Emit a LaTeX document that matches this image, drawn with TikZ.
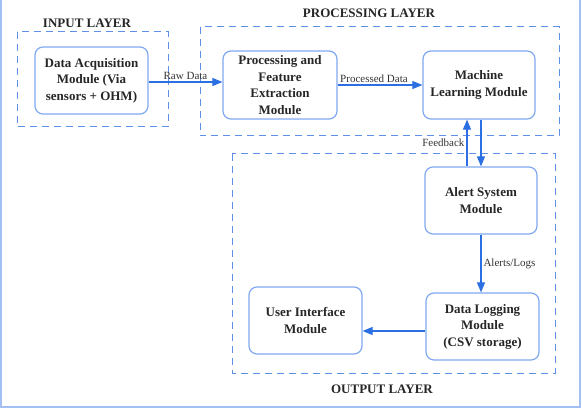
\documentclass[tikz,border=0pt]{standalone}
\usepackage{fontspec}
\setmainfont{Liberation Serif}
\usetikzlibrary{arrows.meta}
\definecolor{boxblue}{HTML}{7FA8F0}
\definecolor{dashblue}{HTML}{5E90E8}
\definecolor{arrowblue}{HTML}{2B6FE3}
\definecolor{frameblue}{HTML}{A4BFF3}
\tikzset{module/.style={draw=boxblue,line width=1.2pt,rounded corners=8pt,
    align=center,font=\fontsize{13}{16.5}\selectfont\bfseries,text=black!85,inner sep=0pt}}

\begin{document}
\begin{tikzpicture}[x=1pt,y=-1pt,
        layer/.style={draw=dashblue,line width=1pt,dash pattern=on 7pt off 5pt},
        title/.style={font=\fontsize{13}{16}\selectfont\bfseries,text=black!85},
        flow/.style={draw=arrowblue,line width=1.1pt,-{Triangle[length=10pt,width=8pt]}},
        tag/.style={font=\fontsize{11}{13}\selectfont,text=black!80,inner sep=2pt}]
    \useasboundingbox (0,0) rectangle (582,409);
    \draw[frameblue,line width=1.2pt] (1,0) -- (1,407) -- (580,407) -- (580,0);
        \draw[layer] (17,32) rectangle (168,127);
        \draw[layer] (200,27) rectangle (559,136);
        \draw[layer] (232,154) rectangle (555,373);
        \node[title] (inputtitle) at (87,23) {INPUT LAYER};
        \node[title] (proctitle) at (369,13) {PROCESSING LAYER};
        \node[title] (outtitle) at (382,389) {OUTPUT LAYER};
        \node[module,minimum width=113pt,minimum height=67pt] (acq) at (91.5,80.5)
            {Data Acquisition\\Module (Via\\sensors + OHM)};
        \node[module,minimum width=114pt,minimum height=68pt] (feat) at (280,85)
            {Processing and\\Feature\\Extraction\\Module};
        \node[module,minimum width=112pt,minimum height=68pt] (ml) at (479,85)
            {Machine\\Learning Module};
        \node[module,minimum width=112pt,minimum height=67pt] (alert) at (481,200.5)
            {Alert System\\Module};
        \node[module,minimum width=113pt,minimum height=67pt] (log) at (482.5,326.5)
            {Data Logging\\Module\\(CSV storage)};
        \node[module,minimum width=113pt,minimum height=67pt] (ui) at (305.5,320.5)
            {User Interface\\Module};
        \draw[flow] ([yshift=-1.5pt]acq.east) -- ([yshift=-1.5pt]acq.east -| feat.west)
            node[tag,above,midway] {Raw Data};
        \draw[flow] (feat.east) -- (ml.west)
            node[tag,above,midway,xshift=-6pt] {Processed Data};
        \draw[flow] ([xshift=-14pt]alert.north) -- ([xshift=-14pt]alert.north |- ml.south)
            node[tag,left,midway] {Feedback};
        \draw[flow] ([xshift=2pt]ml.south) -- ([xshift=2pt]ml.south |- alert.north);
        \draw[flow] (alert.south) -- (alert.south |- log.north)
            node[tag,right,midway] {Alerts/Logs};
        \draw[flow] ([yshift=-4.5pt]log.west) -- ([yshift=-4.5pt]log.west -| ui.east);
    \end{tikzpicture}
\end{document}
